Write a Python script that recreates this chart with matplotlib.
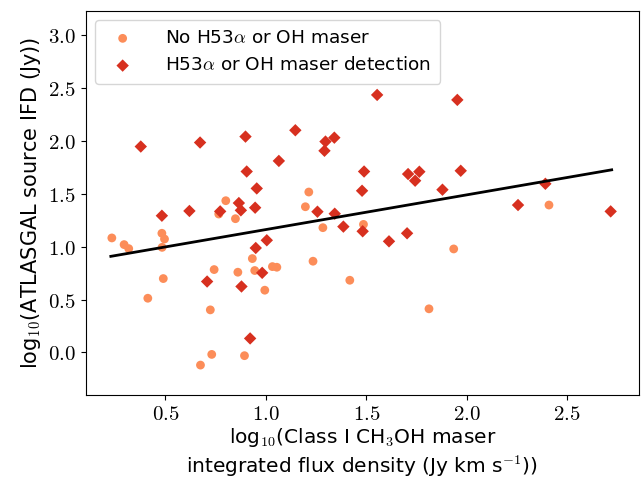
import matplotlib
matplotlib.use("Agg")
import matplotlib.pyplot as plt

plt.rcParams['mathtext.fontset'] = 'cm'
plt.rcParams['font.family'] = ['DejaVu Sans']

# No H53alpha or OH maser (circles)
no_x = [0.234, 0.295, 0.318, 0.483, 0.496, 0.484, 0.490, 0.413, 0.801, 0.766,
        0.849, 1.214, 1.197, 1.284, 1.486, 0.933, 0.743, 0.861, 0.945, 1.033,
        1.055, 1.235, 0.995, 1.418, 0.724, 0.731, 0.894, 0.675, 1.935, 2.409,
        1.812]
no_y = [1.082, 1.019, 0.981, 1.126, 1.072, 0.993, 0.698, 0.512, 1.434, 1.308,
        1.264, 1.516, 1.377, 1.179, 1.210, 0.887, 0.783, 0.758, 0.774, 0.811,
        0.805, 0.862, 0.588, 0.682, 0.402, -0.019, -0.031, -0.120, 0.978, 1.393,
        0.412]

# H53alpha or OH maser detection (diamonds)
det_x = [0.378, 0.673, 0.899, 1.147, 1.297, 1.341, 1.292, 1.065, 0.905, 1.489,
         0.955, 1.479, 0.866, 0.876, 0.947, 0.773, 0.620, 0.483, 1.257, 1.343,
         1.386, 1.482, 1.005, 0.950, 0.982, 0.708, 0.879, 0.922, 1.554, 1.953,
         1.708, 1.764, 1.743, 1.970, 1.879, 2.391, 2.255, 2.716, 1.613, 1.703]
det_y = [1.946, 1.984, 2.040, 2.100, 1.993, 2.030, 1.906, 1.810, 1.710, 1.710,
         1.550, 1.528, 1.412, 1.343, 1.368, 1.333, 1.337, 1.292, 1.330, 1.311,
         1.189, 1.145, 1.060, 0.987, 0.752, 0.670, 0.623, 0.132, 2.434, 2.387,
         1.686, 1.708, 1.623, 1.717, 1.538, 1.594, 1.393, 1.333, 1.050, 1.126]

# Linear fit line (endpoints)
fit_x = [0.229, 2.721]
fit_y = [0.908, 1.726]

x_ticks = [0.5, 1.0, 1.5, 2.0, 2.5]
y_ticks = [0.0, 0.5, 1.0, 1.5, 2.0, 2.5, 3.0]

fig = plt.figure(figsize=(6.43, 4.83), dpi=100)
ax = fig.add_axes([0.1333, 0.1828, 0.8605, 0.795])

ax.scatter(no_x, no_y, marker='o', s=40, color='#fc8d59', edgecolors='none',
           label=r'No H53$\alpha$ or OH maser', zorder=3)
ax.scatter(det_x, det_y, marker='D', s=40, color='#d7301f', edgecolors='none',
           label=r'H53$\alpha$ or OH maser detection', zorder=3)
ax.plot(fit_x, fit_y, color='black', lw=2, zorder=4)

ax.set_xlim(0.104, 2.857)
ax.set_ylim(-0.40, 3.23)
ax.set_xticks(x_ticks)
ax.set_yticks(y_ticks)
ax.set_xticklabels([r'$%.1f$' % v for v in x_ticks], fontsize=15)
ax.set_yticklabels([r'$%.1f$' % v for v in y_ticks], fontsize=15)

ax.set_xlabel('log$_{10}$(Class I CH$_3$OH maser\nintegrated flux density (Jy km s$^{-1}$))',
              fontsize=14.5, linespacing=1.25, labelpad=1)
ax.set_ylabel('log$_{10}$(ATLASGAL source IFD (Jy))', fontsize=15)

ax.legend(loc='upper left', fontsize=13.3, handletextpad=1.3, borderpad=0.5,
          framealpha=0.8)

fig.savefig('out.png', dpi=100)
